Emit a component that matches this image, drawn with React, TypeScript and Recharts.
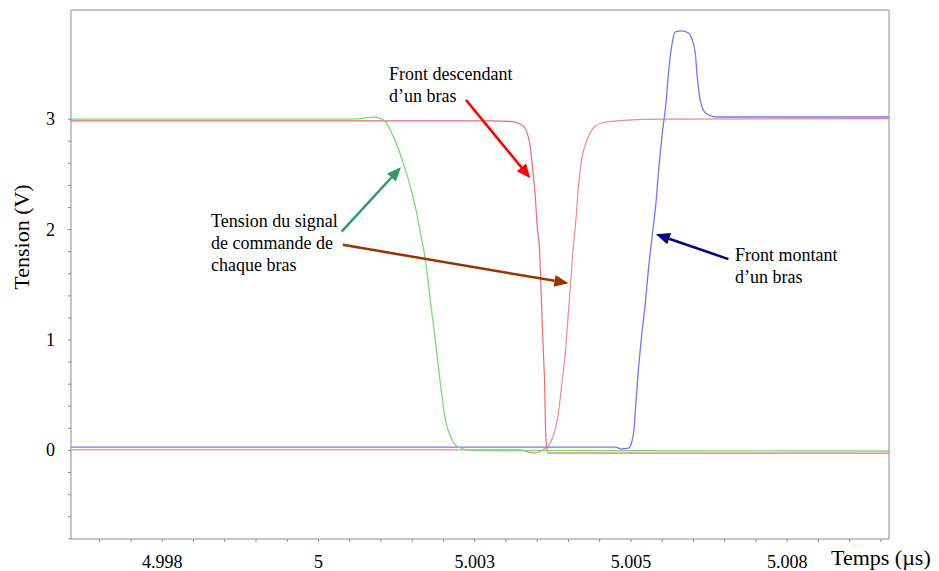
import React from "react";
import { LineChart, Line, XAxis, YAxis, ReferenceLine } from "recharts";

// axis range (µs / V)
const T_MIN = 4.99604;
const T_MAX = 5.00913;
const V_MIN = -0.802;
const V_MAX = 3.989;

// command signal of the first arm (green, falling)
const commandA = [
  { t: 4.99604, v: 3.0 },
  { t: 5.0005, v: 3.0 },
  { t: 5.00075, v: 3.01 },
  { t: 5.00088, v: 3.02 },
  { t: 5.00098, v: 3.01 },
  { t: 5.00108, v: 2.97 },
  { t: 5.0012, v: 2.84 },
  { t: 5.00136, v: 2.6 },
  { t: 5.00144, v: 2.45 },
  { t: 5.00155, v: 2.21 },
  { t: 5.00163, v: 1.97 },
  { t: 5.00171, v: 1.73 },
  { t: 5.00179, v: 1.36 },
  { t: 5.00187, v: 1.0 },
  { t: 5.00195, v: 0.61 },
  { t: 5.00203, v: 0.28 },
  { t: 5.00211, v: 0.13 },
  { t: 5.00219, v: 0.05 },
  { t: 5.00229, v: 0.02 },
  { t: 5.00243, v: 0.0 },
  { t: 5.00913, v: -0.005 },
];

// arm voltage, falling front (red)
const armFalling = [
  { t: 4.99604, v: 2.985 },
  { t: 5.00275, v: 2.985 },
  { t: 5.00307, v: 2.98 },
  { t: 5.00325, v: 2.95 },
  { t: 5.00333, v: 2.89 },
  { t: 5.00339, v: 2.75 },
  { t: 5.00343, v: 2.54 },
  { t: 5.00347, v: 2.3 },
  { t: 5.0035, v: 2.03 },
  { t: 5.00354, v: 1.79 },
  { t: 5.00356, v: 1.48 },
  { t: 5.00358, v: 1.18 },
  { t: 5.0036, v: 0.88 },
  { t: 5.00362, v: 0.58 },
  { t: 5.00363, v: 0.28 },
  { t: 5.00365, v: 0.04 },
  { t: 5.00368, v: -0.024 },
  { t: 5.00913, v: -0.024 },
];

// command signal of the second arm (red, rising)
const commandB = [
  { t: 4.99604, v: 0.005 },
  { t: 5.00323, v: 0.005 },
  { t: 5.00336, v: -0.015 },
  { t: 5.00347, v: -0.025 },
  { t: 5.00355, v: -0.01 },
  { t: 5.00363, v: 0.02 },
  { t: 5.00371, v: 0.07 },
  { t: 5.00379, v: 0.19 },
  { t: 5.00384, v: 0.34 },
  { t: 5.00389, v: 0.58 },
  { t: 5.00395, v: 0.88 },
  { t: 5.00399, v: 1.18 },
  { t: 5.00403, v: 1.48 },
  { t: 5.00407, v: 1.79 },
  { t: 5.00412, v: 2.09 },
  { t: 5.00416, v: 2.39 },
  { t: 5.00421, v: 2.63 },
  { t: 5.00429, v: 2.8 },
  { t: 5.0044, v: 2.92 },
  { t: 5.00456, v: 2.97 },
  { t: 5.00488, v: 2.99 },
  { t: 5.00552, v: 3.0 },
  { t: 5.00913, v: 3.005 },
];

// arm voltage, rising front (blue)
const armRising = [
  { t: 4.99604, v: 0.03 },
  { t: 5.00475, v: 0.03 },
  { t: 5.00485, v: 0.013 },
  { t: 5.00496, v: 0.02 },
  { t: 5.00501, v: 0.07 },
  { t: 5.00505, v: 0.19 },
  { t: 5.00508, v: 0.43 },
  { t: 5.00512, v: 0.73 },
  { t: 5.00517, v: 1.03 },
  { t: 5.00523, v: 1.33 },
  { t: 5.00528, v: 1.64 },
  { t: 5.00534, v: 1.94 },
  { t: 5.0054, v: 2.24 },
  { t: 5.00545, v: 2.58 },
  { t: 5.0055, v: 2.86 },
  { t: 5.00556, v: 3.14 },
  { t: 5.00561, v: 3.47 },
  { t: 5.00566, v: 3.69 },
  { t: 5.00571, v: 3.79 },
  { t: 5.00581, v: 3.8 },
  { t: 5.00592, v: 3.78 },
  { t: 5.00598, v: 3.72 },
  { t: 5.00603, v: 3.6 },
  { t: 5.00606, v: 3.39 },
  { t: 5.00611, v: 3.17 },
  { t: 5.00616, v: 3.08 },
  { t: 5.00624, v: 3.04 },
  { t: 5.00637, v: 3.02 },
  { t: 5.00913, v: 3.02 },
];

const X_TICKS = [
  4.9965, 4.997, 4.9975, 4.998, 4.9985, 4.999, 4.9995, 5.0, 5.0005, 5.001,
  5.0015, 5.002, 5.0025, 5.003, 5.0035, 5.004, 5.0045, 5.005, 5.0055, 5.006,
  5.0065, 5.007, 5.0075, 5.008, 5.0085, 5.009,
];
const X_MAJOR = [4.9975, 5.0, 5.0025, 5.005, 5.0075];
const X_LABELS = ["4.998", "5", "5.003", "5.005", "5.008"];

const Y_TICKS = [
  -0.8, -0.6, -0.4, -0.2, 0, 0.2, 0.4, 0.6, 0.8, 1, 1.2, 1.4, 1.6, 1.8, 2,
  2.2, 2.4, 2.6, 2.8, 3,
];

// annotation arrows: [from, to] in data units
const arrowRed = [{ x: 5.00236, y: 3.175 }, { x: 5.00339, y: 2.466 }];
const arrowGreen = [{ x: 5.00037, y: 1.982 }, { x: 5.00132, y: 2.565 }];
const arrowBrown = [{ x: 5.00039, y: 1.862 }, { x: 5.004, y: 1.515 }];
const arrowNavy = [{ x: 5.00656, y: 1.733 }, { x: 5.0054, y: 1.959 }];

const FONT = "'Liberation Serif', 'Times New Roman', serif";
const AXIS = "#8c8c8c";

const XTick = ({ x, y, payload }: any) => {
  const i = X_MAJOR.findIndex((m) => Math.abs(m - payload.value) < 1e-7);
  if (i < 0) return null;
  return (
    <text x={x} y={y + 24} textAnchor="middle" fontFamily={FONT} fontSize={18} fill="#000">
      {X_LABELS[i]}
    </text>
  );
};

const YTick = ({ x, y, payload }: any) => {
  if (!Number.isInteger(payload.value)) return null;
  return (
    <text x={x - 11} y={y + 6} textAnchor="end" fontFamily={FONT} fontSize={18} fill="#000">
      {payload.value}
    </text>
  );
};

const arrow = (color: string) => (props: any) => {
  const { x1, y1, x2, y2 } = props;
  const a = Math.atan2(y2 - y1, x2 - x1);
  const len = 14;
  const half = 6;
  const bx = x2 - len * Math.cos(a);
  const by = y2 - len * Math.sin(a);
  const p1 = `${bx - half * Math.sin(a)},${by + half * Math.cos(a)}`;
  const p2 = `${bx + half * Math.sin(a)},${by - half * Math.cos(a)}`;
  return (
    <g>
      <line x1={x1} y1={y1} x2={bx} y2={by} stroke={color} strokeWidth={2.5} />
      <polygon points={`${x2},${y2} ${p1} ${p2}`} fill={color} />
    </g>
  );
};

export default function App() {
  const txt = { fontFamily: FONT, fontSize: 18, fill: "#000" };
  return (
    <div style={{ position: "absolute", left: 0, top: 0, width: 939, height: 571, background: "#fff" }}>
      <LineChart width={939} height={571} margin={{ top: 10, right: 50, bottom: 2, left: 11 }}>
        <XAxis
          type="number"
          dataKey="t"
          domain={[T_MIN, T_MAX]}
          allowDataOverflow
          ticks={X_TICKS}
          interval={0}
          tickSize={3}
          stroke={AXIS}
          tick={<XTick />}
          height={30}
        />
        <YAxis
          type="number"
          dataKey="v"
          domain={[V_MIN, V_MAX]}
          allowDataOverflow
          ticks={Y_TICKS}
          interval={0}
          tickSize={3}
          stroke={AXIS}
          tick={<YTick />}
          width={60}
        />
        <ReferenceLine y={V_MAX} stroke={AXIS} ifOverflow="visible" />
        <ReferenceLine x={T_MAX} stroke={AXIS} ifOverflow="visible" />
        <Line data={armFalling} dataKey="v" type="monotone" stroke="#e86e6e" strokeWidth={1.2} dot={false} isAnimationActive={false} />
        <Line data={commandB} dataKey="v" type="monotone" stroke="#f08a8a" strokeWidth={1.2} dot={false} isAnimationActive={false} />
        <Line data={armRising} dataKey="v" type="monotone" stroke="#7676f2" strokeWidth={1.3} dot={false} isAnimationActive={false} />
        <Line data={commandA} dataKey="v" type="monotone" stroke="#78dc78" strokeWidth={1.3} dot={false} isAnimationActive={false} />
        <ReferenceLine segment={arrowRed} ifOverflow="visible" shape={arrow("#ff0000")} />
        <ReferenceLine segment={arrowGreen} ifOverflow="visible" shape={arrow("#339966")} />
        <ReferenceLine segment={arrowBrown} ifOverflow="visible" shape={arrow("#993300")} />
        <ReferenceLine segment={arrowNavy} ifOverflow="visible" shape={arrow("#000080")} />
      </LineChart>
      <svg width={939} height={571} style={{ position: "absolute", left: 0, top: 0, pointerEvents: "none" }}>
        <text {...txt} fontSize={22} textAnchor="middle" transform="translate(29,237) rotate(-90)">
          Tension (V)
        </text>
        <text {...txt} fontSize={22} x={831} y={565}>Temps (µs)</text>
        <text {...txt} x={389} y={80}>Front descendant</text>
        <text {...txt} x={389} y={102}>d’un bras</text>
        <text {...txt} x={211} y={227}>Tension du signal</text>
        <text {...txt} x={211} y={249}>de commande de</text>
        <text {...txt} x={211} y={271}>chaque bras</text>
        <text {...txt} x={735} y={261}>Front montant</text>
        <text {...txt} x={735} y={283}>d’un bras</text>
      </svg>
    </div>
  );
}
